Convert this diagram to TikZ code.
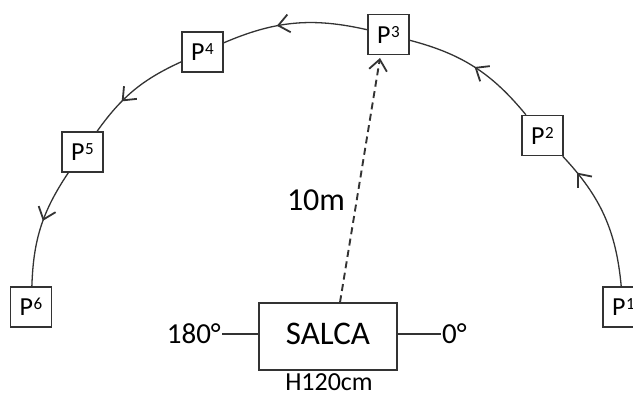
\documentclass[tikz,border=0pt]{standalone}
\usepackage{fontspec}
\setmainfont{Carlito}
\usetikzlibrary{arrows.meta,decorations.markings}
% point label with a raised index
\newcommand{\ptlabel}[1]{P\kern0.5pt\raisebox{6pt}{\fontsize{17}{17}\selectfont #1}}
\begin{document}
\begin{tikzpicture}[x=1pt,y=1pt,
  ink/.style={draw=black!80, line width=1.4pt},
  ptbox/.style={ink, fill=white, minimum width=41pt, minimum height=40pt,
    inner sep=0pt, font=\fontsize{26}{26}\selectfont},
  arcpath/.style={draw=black!80, line width=1.3pt},
  arrowat/.style={postaction={decorate}, decoration={markings,
    mark=at position #1 with {\arrow{Straight Barb[length=11pt,width=18pt,line width=1.8pt]}}}},
  lbl/.style={font=\fontsize{29}{29}\selectfont, inner sep=1pt}]
\useasboundingbox (0,0) rectangle (633,-396);

% measuring points on the semicircle
\node[ptbox] (p1) at (623.5,-307) {\ptlabel{1}};
\node[ptbox] (p2) at (542.5,-135.5) {\ptlabel{2}};
\node[ptbox] (p3) at (388.5,-34.5) {\ptlabel{3}};
\node[ptbox] (p4) at (202.5,-52) {\ptlabel{4}};
\node[ptbox] (p5) at (82.5,-152) {\ptlabel{5}};
\node[ptbox] (p6) at (31,-307) {\ptlabel{6}};

% path from 0 to 180 degrees
\draw[arcpath, arrowat=0.85] (p1) to[bend right=19] (p2);
\draw[arcpath, arrowat=0.5] (p2) to[bend right=18] (p3);
\draw[arcpath, arrowat=0.62] (p3) to[bend right=18] (p4);
\draw[arcpath, arrowat=0.65] (p4) to[bend right=15] (p5);
\draw[arcpath, arrowat=0.45] (p5) to[bend right=16] (p6);

% device in the centre
\node[ink, minimum width=138pt, minimum height=67pt, inner sep=0pt, text depth=6pt,
  font=\fontsize{33}{33}\selectfont] (salca) at (328,-336.5) {SALCA};
\node[lbl, anchor=east] (deg180) at (222,-334) {180°};
\node[lbl, anchor=west] (deg0) at (441,-334) {0°};
\draw[ink] (deg180.east) -- (deg180.east -| salca.west);
\draw[ink] (salca.east |- deg0.west) -- (deg0.west);
\node[font=\fontsize{26}{26}\selectfont, inner sep=0pt] (height) at (329,-382.5) {H120cm};

% radius
\coordinate (aim) at (380,-58);
\draw[draw=black!80, line width=1.9pt, dash pattern=on 7pt off 4.5pt,
  -{Straight Barb[length=11pt,width=18pt,line width=1.8pt]}] ([xshift=12pt]salca.north) -- (aim);
\node[font=\fontsize{32}{32}\selectfont, inner sep=1pt] (dist) at (316,-200) {10m};
\end{tikzpicture}
\end{document}
